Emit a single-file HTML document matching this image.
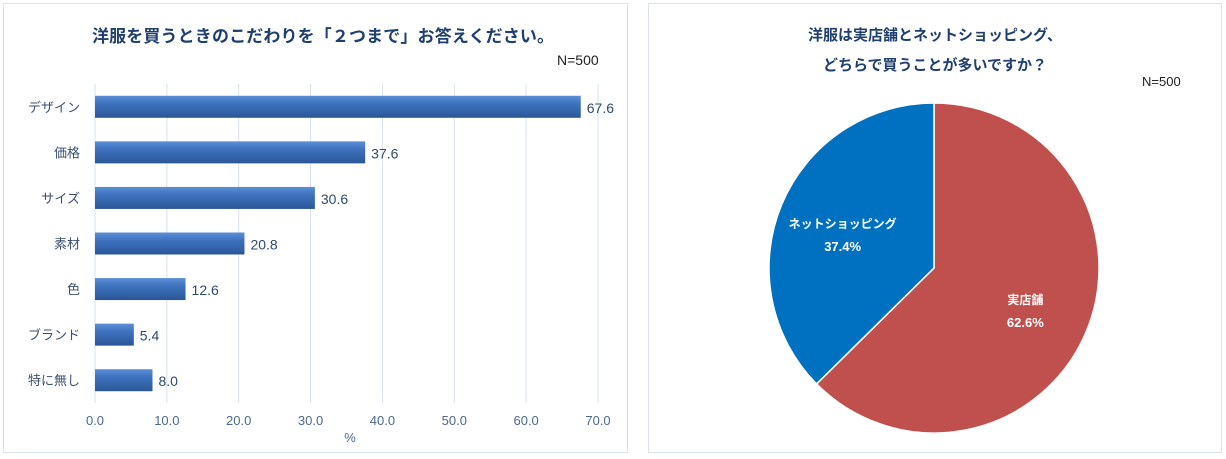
<!DOCTYPE html>
<html><head><meta charset="utf-8">
<style>
body{margin:0;width:1226px;height:459px;background:#fff;overflow:hidden;font-family:"Liberation Sans","Noto Sans CJK JP",sans-serif;}
svg{position:absolute;left:0;top:0}
</style></head>
<body>
<svg width="1226" height="459">
<defs>
<linearGradient id="bg" x1="0" y1="0" x2="0" y2="1">
<stop offset="0" stop-color="#5b8fd6"/><stop offset="0.35" stop-color="#3f73bf"/><stop offset="1" stop-color="#2a5696"/>
</linearGradient>
</defs>
<rect x="3.5" y="3.5" width="624" height="449" fill="#fff" stroke="#d9e2ee"/>
<rect x="648.5" y="3.5" width="573" height="449" fill="#fff" stroke="#d9e2ee"/>
<text x="323" y="42" text-anchor="middle" font-size="17" font-weight="bold" fill="#1f3f6e" textLength="462">洋服を買うときのこだわりを「２つまで」お答えください。</text>
<text x="557" y="65" font-size="14" fill="#222">N=500</text>
<g id="bars"></g>
<text x="350" y="442" text-anchor="middle" font-size="13" fill="#4a6a8e">%</text>
<text x="935" y="40" text-anchor="middle" font-size="15" font-weight="bold" fill="#1f3f6e">洋服は実店舗とネットショッピング、</text>
<text x="935" y="70" text-anchor="middle" font-size="15" font-weight="bold" fill="#1f3f6e">どちらで買うことが多いですか？</text>
<text x="1142" y="86" font-size="13" fill="#222">N=500</text>
<g id="pie"></g>
</svg>
<script>
const categories=["デザイン","価格","サイズ","素材","色","ブランド","特に無し"];
const values=[67.6,37.6,30.6,20.8,12.6,5.4,8.0];
const ticks=[0,10,20,30,40,50,60,70];
const pieLabels=["実店舗","ネットショッピング"];
const pieValues=[62.6,37.4];
const NS="http://www.w3.org/2000/svg";
function mk(t,a,p){const e=document.createElementNS(NS,t);for(const k in a)e.setAttribute(k,a[k]);p.appendChild(e);return e;}
const x0=95,x1=598,xmax=70,yTop=84,yBot=403;
const xs=v=>x0+(v/xmax)*(x1-x0);
const band=(yBot-yTop)/categories.length;
const ys=i=>yTop+band*(i+0.5);
const g=document.getElementById('bars');
ticks.forEach(t=>{
const l=mk('line',{x1:xs(t),x2:xs(t),y1:yTop,y2:yBot,stroke:'#d6e1ef','stroke-width':1},g);


const tx=mk('text',{x:xs(t),y:425,'text-anchor':'middle','font-size':13,fill:'#4a6a8e'},g);tx.textContent=t.toFixed(1);


});
categories.forEach((c,i)=>{
const y=ys(i);
const r=mk('rect',{x:x0,y:y-11,width:xs(values[i])-x0,height:22,fill:'url(#bg)'},g);


const lb=mk('text',{x:80,y:y+5,'text-anchor':'end','font-size':13,fill:'#3a5070'},g);lb.textContent=c;


const v=mk('text',{x:xs(values[i])+6,y:y+6,'font-size':14,fill:'#2f4a6e'},g);v.textContent=values[i].toFixed(1);


});
const pg=document.getElementById('pie');
const cx=934,cy=268,R=165,cols=['#c0504d','#0070c0'];
const tot=pieValues.reduce((a,b)=>a+b,0);let a=-Math.PI/2;
pieValues.forEach((v,i)=>{
const da=v/tot*2*Math.PI,b=a+da;
const p=mk('path',{d:`M${cx},${cy}L${cx+R*Math.cos(a)},${cy+R*Math.sin(a)}A${R},${R} 0 ${da>Math.PI?1:0} 1 ${cx+R*Math.cos(b)},${cy+R*Math.sin(b)}Z`,fill:cols[i],stroke:'#fff','stroke-width':1.5},pg);


const m=(a+b)/2,lx=cx+R*0.6*Math.cos(m),ly=cy+R*0.6*Math.sin(m);
const t1=mk('text',{x:lx,y:ly-2,'text-anchor':'middle','font-size':12,'font-weight':'bold',fill:'#fff'},pg);t1.textContent=pieLabels[i];


const t2=mk('text',{x:lx,y:ly+21,'text-anchor':'middle','font-size':13,'font-weight':'bold',fill:'#fff'},pg);t2.textContent=v.toFixed(1)+'%';


a=b;
});
</script>
</body></html>
